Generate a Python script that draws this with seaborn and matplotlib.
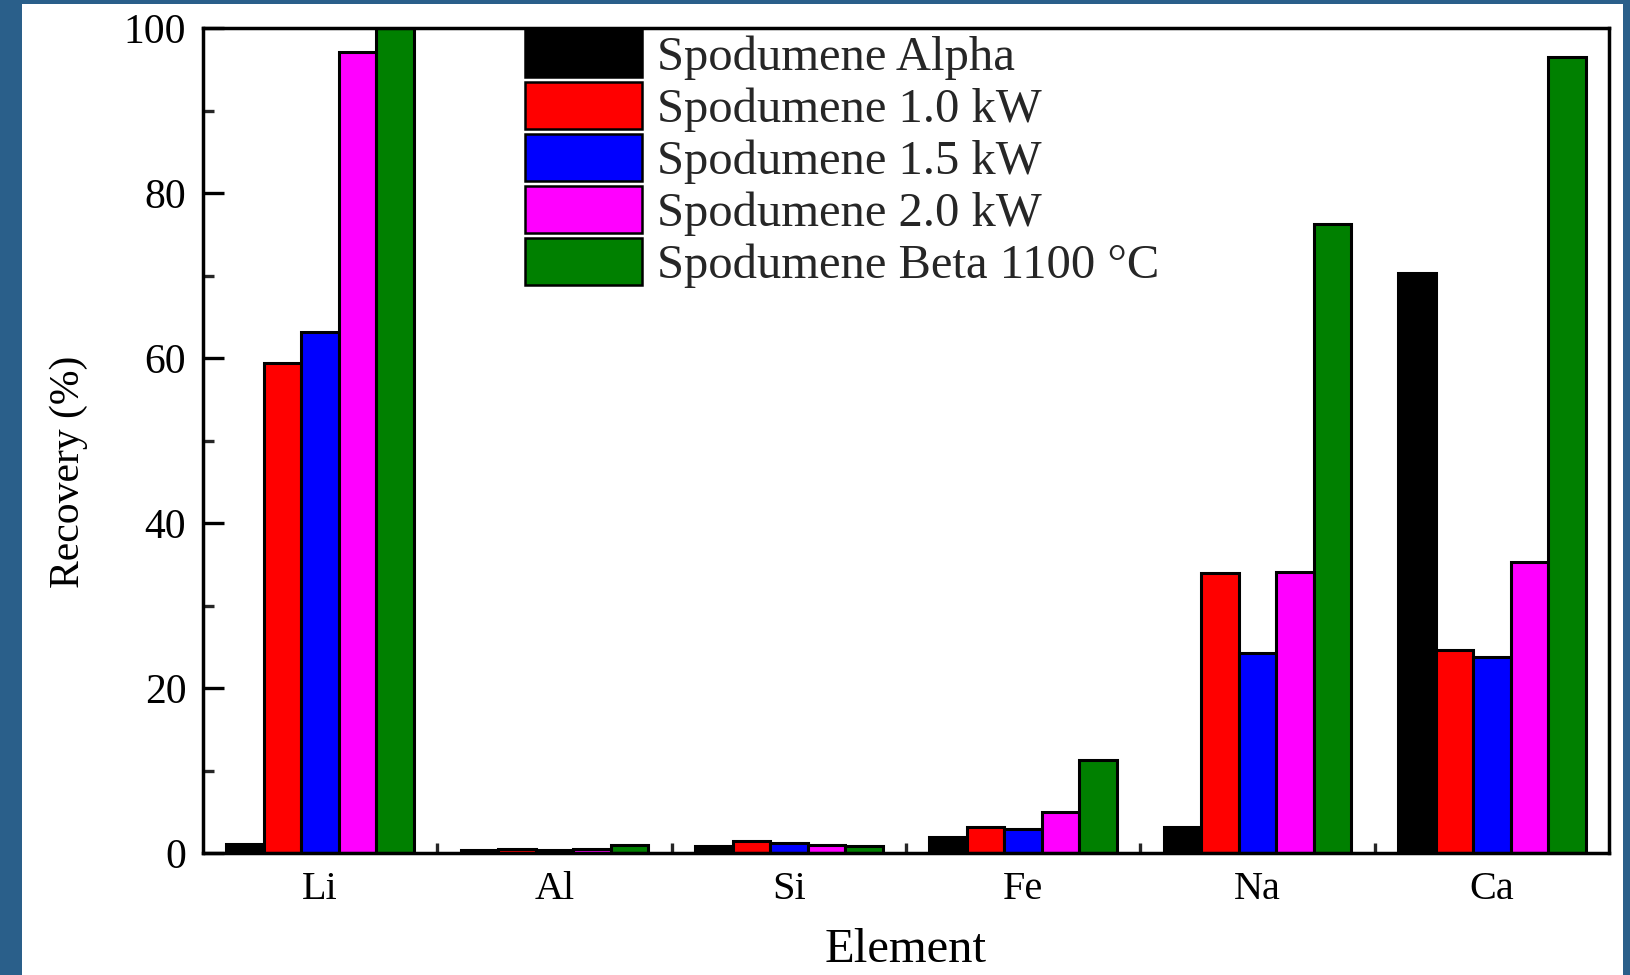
import matplotlib
matplotlib.use("Agg")
import matplotlib.pyplot as plt
import seaborn as sns
import pandas as pd
from matplotlib.patches import Rectangle
from matplotlib.ticker import MultipleLocator, FixedLocator

elements = ["Li", "Al", "Si", "Fe", "Na", "Ca"]
series_names = ["Spodumene Alpha", "Spodumene 1.0 kW", "Spodumene 1.5 kW",
                "Spodumene 2.0 kW", "Spodumene Beta 1100 °C"]
alpha_vals = [1.1, 0.4, 0.8, 2.0, 3.1, 70.3]
kw10_vals = [59.4, 0.5, 1.4, 3.1, 33.9, 24.6]
kw15_vals = [63.2, 0.4, 1.2, 2.9, 24.3, 23.7]
kw20_vals = [97.1, 0.5, 1.0, 5.0, 34.1, 35.3]
beta_vals = [100.0, 1.0, 0.9, 11.3, 76.2, 96.5]
colors = ["#000000", "#ff0000", "#0000ff", "#ff00ff", "#008000"]

all_vals = [alpha_vals, kw10_vals, kw15_vals, kw20_vals, beta_vals]
rows = []
for name, vals in zip(series_names, all_vals):
    for el, v in zip(elements, vals):
        rows.append({"Element": el, "Recovery": v, "Sample": name})
df = pd.DataFrame(rows)

sns.set_theme(style="white")
plt.rcParams["font.family"] = ["Liberation Serif", "DejaVu Serif"]
plt.rcParams["mathtext.fontset"] = "stix"

W, H = 1630, 975
fig = plt.figure(figsize=(W / 100, H / 100), dpi=100)
fig.patch.set_facecolor("#2a5f8a")
fig.patches.append(Rectangle((22 / W, 0), (1623 - 22) / W, 1 - 4 / H,
                             transform=fig.transFigure, facecolor="white",
                             edgecolor="none", zorder=-5))

ax = fig.add_axes([203 / W, 1 - 853 / H, (1609 - 203) / W, (853 - 28) / H])
ax.set_zorder(2)
sns.barplot(data=df, x="Element", y="Recovery", hue="Sample",
            hue_order=series_names, order=elements, palette=colors,
            saturation=1, edgecolor="black", linewidth=2.2, width=0.8,
            ax=ax, legend=True)

ax.set_xlim(-0.5, 5.5)
ax.set_ylim(0, 100)
ax.set_facecolor("white")
for s in ax.spines.values():
    s.set_visible(True)
    s.set_color("black")
    s.set_linewidth(2.5)

ax.yaxis.set_major_locator(MultipleLocator(20))
ax.yaxis.set_minor_locator(MultipleLocator(10))
ax.tick_params(axis="y", which="major", direction="in", length=15, width=2.4,
               labelsize=30, pad=12, colors="black", left=True)
ax.tick_params(axis="y", which="minor", direction="in", length=8, width=2.4,
               left=True)
ax.xaxis.set_minor_locator(FixedLocator([0.5, 1.5, 2.5, 3.5, 4.5]))
ax.tick_params(axis="x", which="major", length=0, labelsize=29, pad=13,
               colors="black")
ax.tick_params(axis="x", which="minor", direction="in", length=7, width=2.4,
               bottom=True)

ax.set_xlabel("Element", fontsize=35, labelpad=14, color="black")
ax.set_ylabel("Recovery (%)", fontsize=30, color="black")
ax.yaxis.set_label_coords(-0.082, 0.462)

handles, labels = ax.get_legend_handles_labels()
for h in handles:
    h.set_edgecolor("black")
    h.set_linewidth(1.8)
leg = ax.legend(handles, labels, loc="upper left",
                bbox_to_anchor=(525 / W, 1 - 30 / H),
                bbox_transform=fig.transFigure, frameon=False,
                fontsize=35, handlelength=2.4, handleheight=1.1,
                handletextpad=0.32, labelspacing=0.045, borderpad=0,
                borderaxespad=0)

fig.savefig("out.png", dpi=100, facecolor=fig.get_facecolor())
